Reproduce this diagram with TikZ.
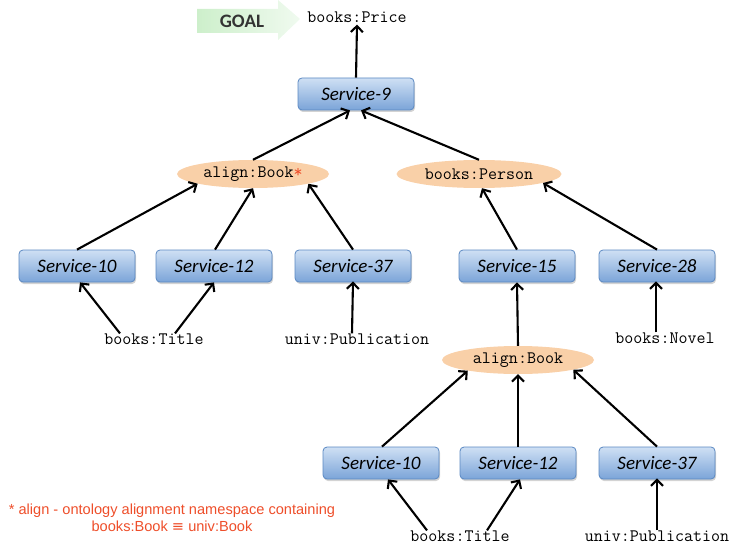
\documentclass[tikz,border=0pt]{standalone}
\usepackage{fontspec}
\setmainfont{Liberation Sans}
\newfontfamily\svcfont{Carlito}
\newfontfamily\symfont{DejaVu Sans}
\usetikzlibrary{shapes.geometric,arrows.meta,shadows,calc}
\definecolor{boxtop}{HTML}{CFE0F4}
\definecolor{boxbot}{HTML}{7BA4D8}
\definecolor{boxline}{HTML}{5A88C2}
\definecolor{peach}{HTML}{F9D0A8}
\definecolor{notered}{HTML}{EE4E2A}
\definecolor{goalgreen}{HTML}{CDEFCB}
\tikzset{
  svc/.style={draw=boxline, line width=0.8pt, rounded corners=4pt,
    top color=boxtop, bottom color=boxbot,
    minimum width=116pt, minimum height=32pt, inner sep=0pt,
    font=\svcfont\itshape\fontsize{19}{22}\selectfont,
    drop shadow={shadow xshift=1pt, shadow yshift=-2pt, opacity=0.35}},
  cls/.style={ellipse, fill=peach, draw=none, inner sep=0pt,
    minimum width=152pt, minimum height=28pt,
    font=\ttfamily\fontsize{17.5}{19}\selectfont},
  term/.style={inner sep=2pt, font=\ttfamily\fontsize{17.5}{19}\selectfont},
  flow/.style={-{Straight Barb[length=6pt,width=12pt]}, line width=2.1pt, black},
}
\begin{document}
\begin{tikzpicture}[x=1pt,y=-1pt]
\useasboundingbox (0,0) rectangle (730,548);

% goal marker
\shade[left color=goalgreen, right color=goalgreen!30!white]
  (197,9) -- (278,9) -- (278,0) -- (300,19) -- (278,40) -- (278,33) -- (197,33) -- cycle;
\node[font=\svcfont\bfseries\fontsize{19}{20}\selectfont, text=black!80] (goal) at (242,21) {GOAL};

% top of the plan
\node[term] (price) at (357,17) {books:Price};
\node[svc] (s9) at (356,94) {Service-9};

% second level
\node[cls] (ab1) at (253,174) {align:Book\textcolor{notered}{*}};
\node[cls, minimum width=165pt] (bp) at (479,174) {books:Person};

% third level
\node[svc] (s10a) at (77,266) {Service-10};
\node[svc] (s12a) at (214,266) {Service-12};
\node[svc] (s37a) at (353,266) {Service-37};
\node[svc] (s15) at (517,266) {Service-15};
\node[svc] (s28) at (657,266) {Service-28};

% inputs of the third level
\node[term] (bt1) at (154,339) {books:Title};
\node[term] (up1) at (357,339) {univ:Publication};
\node[term] (bn) at (665,338) {books:Novel};

% alignment branch
\node[cls] (ab2) at (518,360) {align:Book};
\node[svc] (s10b) at (381,463) {Service-10};
\node[svc] (s12b) at (518,463) {Service-12};
\node[svc] (s37b) at (657,463) {Service-37};
\node[term] (bt2) at (460,536) {books:Title};
\node[term] (up2) at (657,536) {univ:Publication};

% connectors
\draw[flow] (s9.north) -- (price.south);
\draw[flow] (ab1.north) -- ([xshift=-6pt]s9.south);
\draw[flow] (bp.north) -- ([xshift=5pt]s9.south);

\draw[flow] (s10a.north) -- (ab1.190);
\draw[flow] ([xshift=1pt]s12a.north) -- (ab1.south);
\draw[flow] (s37a.north) -- (ab1.350);
\draw[flow] (s15.north) -- ([xshift=3pt]bp.south);
\draw[flow] (s28.north) -- (bp.352);

\draw[flow] ([xshift=-34pt,yshift=-2pt]bt1.north) -- ([xshift=3pt]s10a.south);
\draw[flow] ([xshift=21pt,yshift=-2pt]bt1.north) -- (s12a.south);
\draw[flow] ([xshift=-5pt,yshift=-2pt]up1.north) -- ([yshift=1pt]s37a.south);
\draw[flow] ([xshift=-9pt,yshift=-2pt]bn.north) -- ([xshift=-1pt,yshift=1pt]s28.south);

\draw[flow] (ab2.north) -- (s15.south);
\draw[flow] ([xshift=1pt]s10b.north) -- (ab2.192);
\draw[flow] (s12b.north) -- (ab2.south);
\draw[flow] (s37b.north) -- (ab2.350);
\draw[flow] ([xshift=-33pt,yshift=-2pt]bt2.north) -- ([xshift=7pt]s10b.south);
\draw[flow] ([xshift=27pt,yshift=-2pt]bt2.north) -- ([xshift=2pt]s12b.south);
\draw[flow] ([yshift=-2pt]up2.north) -- ([yshift=1pt]s37b.south);

% footnote
\node[text=notered, font=\fontsize{14.6}{17}\selectfont, align=center] (note) at (172,518)
  {* align - ontology alignment namespace containing\\ books:Book {\symfont ≡} univ:Book};
\end{tikzpicture}
\end{document}
